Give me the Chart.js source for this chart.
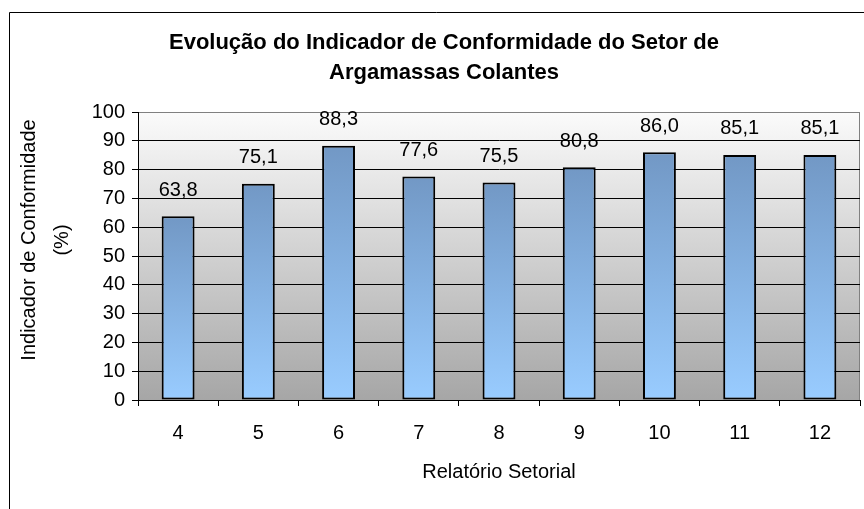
<!DOCTYPE html>
<html>
<head>
<meta charset="utf-8">
<script src="https://cdn.jsdelivr.net/npm/chart.js@4"></script>
<style>
    html, body { margin: 0; padding: 0; background: #fff; }
    #wrap { width: 864px; height: 509px; }
</style>
</head>
<body>
<div id="wrap"><canvas id="myChart" width="864" height="509"></canvas></div>
<script>
// dados do gráfico
const relatorios = ['4', '5', '6', '7', '8', '9', '10', '11', '12'];
const conformidade = [63.8, 75.1, 88.3, 77.6, 75.5, 80.8, 86.0, 85.1, 85.1];
const yMin = 0;
const yMax = 100;
const yPasso = 10;
const tituloGrafico = ['Evolução do Indicador de Conformidade do Setor de', 'Argamassas Colantes'];
const tituloY = ['Indicador de Conformidade', '(%)'];
const tituloX = 'Relatório Setorial';

const fonte = '"Liberation Sans", Arial, sans-serif';
Chart.defaults.font.family = fonte;
Chart.defaults.color = '#000';

const formatar = v => v.toFixed(1).replace('.', ',');

// moldura, fundo cinza em degradê da área de plotagem
const fundo = {
    id: 'fundo',
    beforeDraw(chart) {
        const {ctx, chartArea: a} = chart;
        ctx.save();
        ctx.strokeStyle = '#000';
        ctx.lineWidth = 1;
        ctx.beginPath();
        ctx.moveTo(9.5, 509);
        ctx.lineTo(9.5, 12.5);
        ctx.lineTo(864, 12.5);
        ctx.stroke();

        const g = ctx.createLinearGradient(0, a.top, 0, a.bottom);
        g.addColorStop(0, '#fbfbfb');
        g.addColorStop(1, '#a6a6a6');
        ctx.fillStyle = g;
        ctx.fillRect(a.left, a.top, a.right - a.left, a.bottom - a.top);
        ctx.strokeStyle = '#808080';
        ctx.strokeRect(a.left + 0.5, a.top + 0.5, a.right - a.left - 1, a.bottom - a.top);
        ctx.restore();
    }
};

// rótulos de valor acima das barras
const valores = {
    id: 'valores',
    afterDatasetsDraw(chart) {
        const ctx = chart.ctx;
        const meta = chart.getDatasetMeta(0);
        ctx.save();
        ctx.font = '20px ' + fonte;
        ctx.fillStyle = '#000';
        ctx.textAlign = 'center';
        ctx.textBaseline = 'middle';
        meta.data.forEach((bar, i) => {
            ctx.fillText(formatar(conformidade[i]), bar.x, bar.y - 26);
        });
        ctx.restore();
    }
};

// título do eixo Y (duas linhas, girado)
const eixoY = {
    id: 'eixoY',
    afterDraw(chart) {
        const {ctx, chartArea: a} = chart;
        ctx.save();
        ctx.font = '20px ' + fonte;
        ctx.fillStyle = '#000';
        ctx.textAlign = 'center';
        ctx.textBaseline = 'middle';
        ctx.translate(29, (a.top + a.bottom) / 2 - 16);
        ctx.rotate(-Math.PI / 2);
        tituloY.forEach((linha, i) => ctx.fillText(linha, 0, i * 33));
        ctx.restore();
    }
};

const ctx = document.getElementById('myChart').getContext('2d');
const myChart = new Chart(ctx, {
    type: 'bar',
    data: {
        labels: relatorios,
        datasets: [{
            label: 'Indicador',
            data: conformidade,
            backgroundColor: (c) => {
                const chart = c.chart;
                if (!chart.chartArea || c.type !== 'data') return '#99ccff';
                const y = chart.scales.y;
                const g = chart.ctx.createLinearGradient(0, y.getPixelForValue(c.raw), 0, y.getPixelForValue(0));
                g.addColorStop(0, '#7298c5');
                g.addColorStop(1, '#99ccff');
                return g;
            },
            borderColor: '#000',
            borderWidth: 2,
            borderSkipped: false,
            categoryPercentage: 1,
            barPercentage: 0.41,
        }]
    },
    options: {
        responsive: false,
        animation: false,
        layout: {
            padding: { top: 12, left: 28, right: 4, bottom: 0 }
        },
        plugins: {
            legend: { display: false },
            tooltip: { enabled: false },
            title: {
                display: true,
                text: tituloGrafico,
                color: '#000',
                font: { size: 22, weight: 'bold', lineHeight: 30 / 22 },
                padding: { top: 16, bottom: 24 },
            },
        },
        scales: {
            x: {
                grid: {
                    offset: true,
                    drawOnChartArea: false,
                    drawTicks: true,
                    tickLength: 6,
                    color: '#000',
                },
                border: { color: '#000', width: 1 },
                ticks: {
                    color: '#000',
                    padding: 15,
                    font: { size: 20 },
                },
                title: {
                    display: true,
                    text: tituloX,
                    color: '#000',
                    font: { size: 20 },
                    padding: 25,
                },
                afterFit: s => { s.height = 109; },
            },
            y: {
                min: yMin,
                max: yMax,
                grid: {
                    color: c => (c.tick && c.tick.value === yMax) ? '#808080' : '#000',
                    tickColor: '#000',
                    tickLength: 6,
                },
                border: { color: '#000', width: 1 },
                ticks: {
                    stepSize: yPasso,
                    color: '#000',
                    padding: 7,
                    font: { size: 20 },
                },
                afterFit: s => { s.width = 110; },
            },
        },
    },
    plugins: [fundo, valores, eixoY],
});
</script>
</body>
</html>
